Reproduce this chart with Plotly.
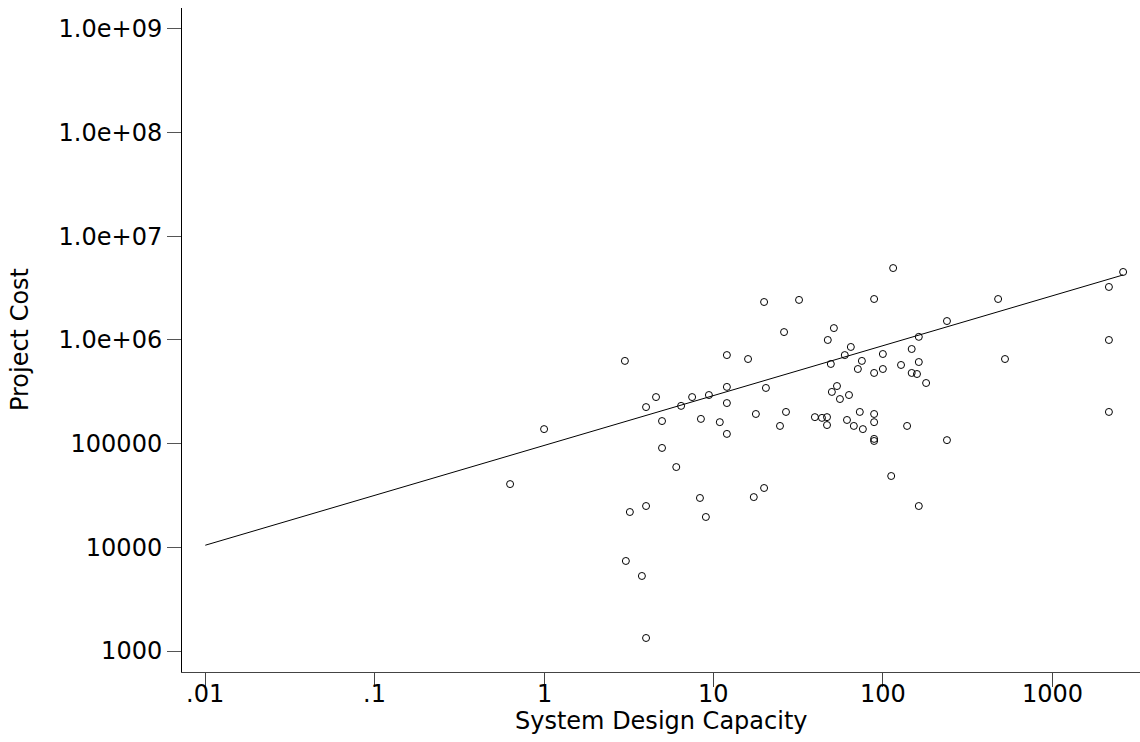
import numpy as np
import plotly.graph_objects as go

# System design capacity and project cost for each project
capacity = [
    0.63, 1.0, 3.0, 4.0, 4.58, 4.97, 4.97, 6.44, 7.48, 6.03,
    3.21, 4.0, 3.04, 3.78, 4.0, 8.32, 9.02, 8.43, 9.4, 10.9,
    12.0, 12.0, 12.0, 12.0, 16.0, 17.8, 17.3, 19.9, 19.9, 20.4,
    24.7, 26.1, 115, 2620, 32.0, 88.8, 479, 2160, 51.4, 47.3,
    64.7, 59.6, 49.3, 75.2, 71.2, 100, 88.8, 100, 148, 163,
    239, 163, 128, 148, 159, 180, 526, 2160, 2160, 53.6,
    50.0, 63.1, 55.8, 26.8, 39.7, 43.7, 46.8, 46.8, 61.4, 67.4,
    76.2, 73.1, 88.8, 88.8, 88.8, 88.8, 139, 239, 112, 163,
]
cost = [
    40700, 138000, 627000, 225000, 281000, 165000, 90800, 231000, 281000, 59400,
    21900, 25000, 7380, 5290, 1335, 29900, 19600, 173000, 294000, 161000,
    124000, 246000, 352000, 714000, 654000, 193000, 30500, 37300, 2320000, 344000,
    148000, 1190000, 4930000, 4520000, 2430000, 2480000, 2480000, 3240000, 1300000, 998000,
    855000, 714000, 586000, 627000, 524000, 731000, 480000, 524000, 817000, 1070000,
    1520000, 612000, 573000, 480000, 469000, 384000, 654000, 998000, 202000, 359000,
    315000, 294000, 269000, 202000, 180000, 177000, 180000, 151000, 169000, 148000,
    138000, 202000, 193000, 161000, 111000, 106000, 148000, 108000, 48700, 25000,
]

# Fitted log-log line: log10(cost) = fit_intercept + fit_slope * log10(capacity)
fit_intercept = 4.982
fit_slope = 0.481
fit_x_start = 0.01

x_tick_vals = [0.01, 0.1, 1, 10, 100, 1000]
x_tick_text = [".01", ".1", "1", "10", "100", "1000"]
y_tick_vals = [1e3, 1e4, 1e5, 1e6, 1e7, 1e8, 1e9]
y_tick_text = ["1000", "10000", "100000", "1.0e+06", "1.0e+07", "1.0e+08", "1.0e+09"]

fit_x = np.array([fit_x_start, max(capacity)])
fit_y = 10 ** (fit_intercept + fit_slope * np.log10(fit_x))

FONT = "DejaVu Sans"
TICK_SIZE = 24
TITLE_SIZE = 24

fig = go.Figure()
fig.add_trace(go.Scatter(
    x=capacity, y=cost, mode="markers",
    marker=dict(symbol="circle-open", size=7, color="black", line=dict(width=1, color="black")),
    showlegend=False,
))
fig.add_trace(go.Scatter(
    x=fit_x, y=fit_y, mode="lines",
    line=dict(color="black", width=1),
    showlegend=False,
))

axis_common = dict(
    showgrid=False, zeroline=False, showline=True, linewidth=1,
    ticks="outside", ticklen=14, tickwidth=1,
    tickfont=dict(family=FONT, size=TICK_SIZE, color="black"),
)

# x tick labels are placed as annotations so they sit close under the tick marks
fig.update_xaxes(
    type="log", range=[-2.1375, 3.518],
    tickvals=x_tick_vals, showticklabels=False,
    linecolor="#444", tickcolor="#444",
    **axis_common,
)
fig.update_yaxes(
    type="log", range=[2.7975, 9.2006],
    tickvals=y_tick_vals, ticktext=y_tick_text,
    linecolor="black", tickcolor="#555",
    **axis_common,
)

for val, label in zip(x_tick_vals, x_tick_text):
    fig.add_annotation(
        text=label, xref="x", yref="paper",
        x=np.log10(val), y=-0.0331, xanchor="center", yanchor="middle",
        showarrow=False, font=dict(family=FONT, size=TICK_SIZE, color="black"),
    )

fig.add_annotation(
    text="System Design Capacity", xref="paper", yref="paper",
    x=0.5, y=-0.0738, xanchor="center", yanchor="middle",
    showarrow=False, font=dict(family=FONT, size=TITLE_SIZE, color="black"),
)
fig.add_annotation(
    text="Project Cost", xref="paper", yref="paper",
    x=-0.169, y=0.5, xanchor="center", yanchor="middle", textangle=-90,
    showarrow=False, font=dict(family=FONT, size=TITLE_SIZE, color="black"),
)

fig.update_layout(
    width=1140, height=742,
    margin=dict(l=182, r=0, t=8, b=70),
    plot_bgcolor="white", paper_bgcolor="white",
)

fig.write_html("out.html")
